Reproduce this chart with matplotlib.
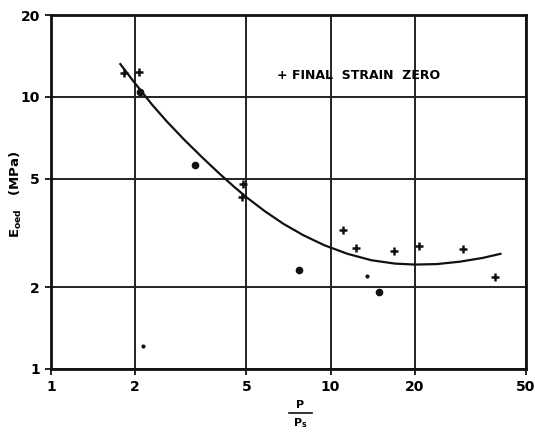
import matplotlib
matplotlib.use('Agg')
import matplotlib.pyplot as plt
from matplotlib.ticker import FixedLocator, FixedFormatter, NullLocator

# final strain zero (crosses)
cross_p = [1.82, 2.06, 4.86, 4.83, 11.1, 12.3, 16.9, 20.7, 29.8, 38.7]
cross_e = [12.2, 12.3, 4.8, 4.27, 3.25, 2.79, 2.72, 2.82, 2.77, 2.18]

# other tests (dots)
dot_p = [2.08, 3.27, 7.71, 14.9, 2.13, 13.5]
dot_e = [10.4, 5.6, 2.32, 1.92, 1.22, 2.20]
dot_size = [4.5, 4.5, 4.5, 4.5, 2.0, 2.0]

# hand-drawn trend curve
curve_p = [1.77, 2.0, 2.3, 2.6, 3.0, 3.5, 4.0, 4.5, 5.0, 5.8, 6.8, 8.0,
           9.5, 11.5, 14, 17, 20, 24, 29, 35, 40.5]
curve_e = [13.2, 11.2, 9.36, 8.11, 6.95, 5.95, 5.23, 4.69, 4.28, 3.81,
           3.41, 3.10, 2.85, 2.65, 2.51, 2.44, 2.42, 2.43, 2.48, 2.56, 2.65]

x_ticks = [1, 2, 5, 10, 20, 50]
y_ticks = [1, 2, 5, 10, 20]

W, H = 535, 434
fig = plt.figure(figsize=(W / 100, H / 100), dpi=100)
ax = fig.add_axes([51 / W, 1 - 369 / H, 475 / W, 354 / H])

ax.set_xscale('log')
ax.set_yscale('log')
ax.set_xlim(1, 50)
ax.set_ylim(1, 20)

ax.xaxis.set_major_locator(FixedLocator(x_ticks))
ax.xaxis.set_major_formatter(FixedFormatter([str(v) for v in x_ticks]))
ax.yaxis.set_major_locator(FixedLocator(y_ticks))
ax.yaxis.set_major_formatter(FixedFormatter([str(v) for v in y_ticks]))
ax.xaxis.set_minor_locator(NullLocator())
ax.yaxis.set_minor_locator(NullLocator())

ax.grid(True, color='#222222', linewidth=1.4)
for s in ax.spines.values():
    s.set_linewidth(2)
    s.set_color('#111111')
ax.tick_params(length=4, width=1.4, color='#222222', labelsize=10, pad=4)
for lbl in ax.get_xticklabels() + ax.get_yticklabels():
    lbl.set_fontweight('bold')

ax.plot(curve_p, curve_e, color='#111111', linewidth=1.6, zorder=3,
        solid_joinstyle='round')
ax.plot(cross_p, cross_e, linestyle='none', marker='+', markersize=6,
        markeredgewidth=1.8, color='#111111', zorder=4)
for p, e, s in zip(dot_p, dot_e, dot_size):
    ax.plot(p, e, linestyle='none', marker='o', markersize=s,
            color='#111111', zorder=4)

ax.text(0.476, 0.828, '+ FINAL  STRAIN  ZERO', transform=ax.transAxes,
        fontsize=9, fontweight='bold', ha='left', va='center')

# axis titles
fig.text(16 / W, 1 - 194 / H, r'E$_{\mathbf{oed}}$   (MPa)', rotation=90,
         fontsize=9.5, fontweight='bold', ha='center', va='center')
fig.text(300 / W, 1 - 405 / H, 'P', fontsize=8, fontweight='bold',
         ha='center', va='center')
fig.add_artist(plt.Line2D([289 / W, 312 / W], [1 - 413 / H, 1 - 413 / H],
                          color='#111111', linewidth=1.2))
fig.text(300 / W, 1 - 423 / H, r'P$_{\mathbf{s}}$', fontsize=8,
         fontweight='bold', ha='center', va='center')

plt.savefig('out.png', dpi=100)
